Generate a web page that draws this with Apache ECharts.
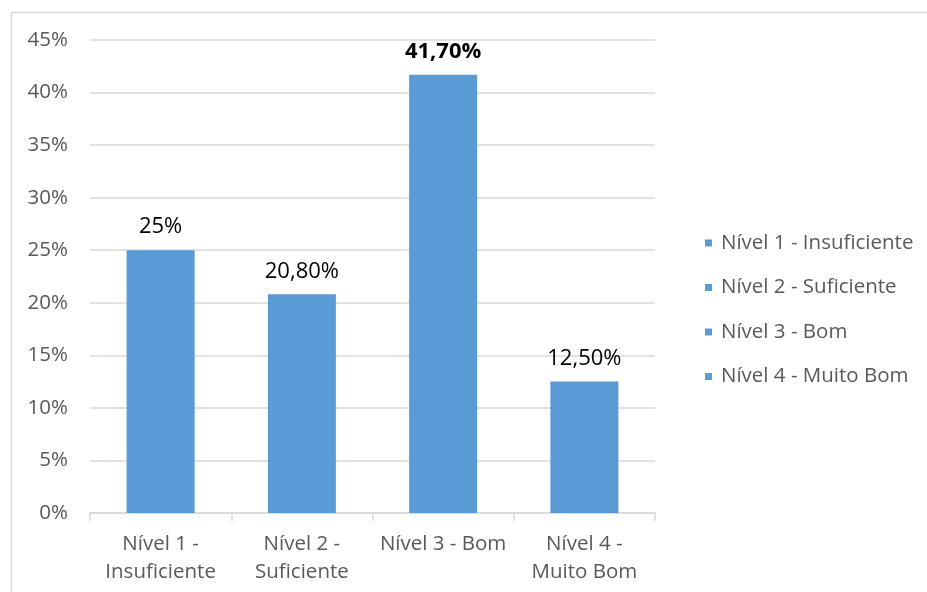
<!DOCTYPE html>
<html>
<head>
<meta charset="utf-8">
<script src="https://cdn.jsdelivr.net/npm/echarts@6/dist/echarts.min.js"></script>
<style>
  html, body { margin: 0; padding: 0; background: #fff; }
  #chart { width: 927px; height: 592px; }
</style>
</head>
<body>
<div id="chart"></div>
<script>
// Categories, values and printed labels
const categories = ['Nível 1 - Insuficiente', 'Nível 2 - Suficiente', 'Nível 3 - Bom', 'Nível 4 - Muito Bom'];
const axisLabels = ['Nível 1 -\nInsuficiente', 'Nível 2 -\nSuficiente', 'Nível 3 - Bom', 'Nível 4 -\nMuito Bom'];
const values = [25, 20.8, 41.7, 12.5];
const valueLabels = ['25%', '20,80%', '41,70%', '12,50%'];
const boldLabel = [false, false, true, false];

const FONT = '"Open Sans", sans-serif';
const BAR = '#5b9bd5';
const GRID = '#d9d9d9';
const TEXT = '#595959';

// One stacked series per category so the legend lists each level,
// while each bar still sits in the centre of its own slot.
const series = categories.map((name, i) => ({
  name: name,
  type: 'bar',
  stack: 'all',
  barWidth: 68,
  itemStyle: { color: BAR },
  data: categories.map((_, j) => (j === i ? values[i] : '-')),
  label: {
    show: true,
    position: 'top',
    distance: 12,
    formatter: () => valueLabels[i],
    color: '#000',
    fontFamily: FONT,
    fontSize: 22,
    fontWeight: boldLabel[i] ? 'bold' : 'normal'
  }
}));

const chart = echarts.init(document.getElementById('chart'));
chart.setOption({
  animation: false,
  backgroundColor: '#fff',
  graphic: [{
    type: 'rect',
    shape: { x: 11.5, y: 12.5, width: 940, height: 620 },
    style: { fill: 'none', stroke: GRID, lineWidth: 1.5 },
    silent: true
  }],
  grid: { left: 90, right: 272, top: 40, bottom: 79 },
  legend: {
    orient: 'vertical',
    left: 700,
    top: 226,
    itemWidth: 7,
    itemHeight: 7,
    itemGap: 20.5,
    icon: 'rect',
    textStyle: { fontFamily: FONT, fontSize: 20.5, color: TEXT, lineHeight: 24, padding: [0, 0, 0, 4] },
    data: categories
  },
  xAxis: {
    type: 'category',
    data: categories,
    axisLine: { lineStyle: { color: GRID, width: 1.5 } },
    axisTick: { show: true, length: 8, lineStyle: { color: GRID, width: 1.5 } },
    axisLabel: {
      interval: 0,
      margin: 17,
      fontFamily: FONT,
      fontSize: 20.5,
      color: TEXT,
      lineHeight: 28,
      formatter: (v, idx) => axisLabels[idx]
    }
  },
  yAxis: {
    type: 'value',
    min: 0,
    max: 45,
    interval: 5,
    axisLine: { show: false },
    axisTick: { show: false },
    splitLine: { lineStyle: { color: GRID, width: 1.5 } },
    axisLabel: {
      margin: 22,
      fontFamily: FONT,
      fontSize: 20.5,
      color: TEXT,
      formatter: v => v + '%'
    }
  },
  series: series
});
</script>
</body>
</html>
